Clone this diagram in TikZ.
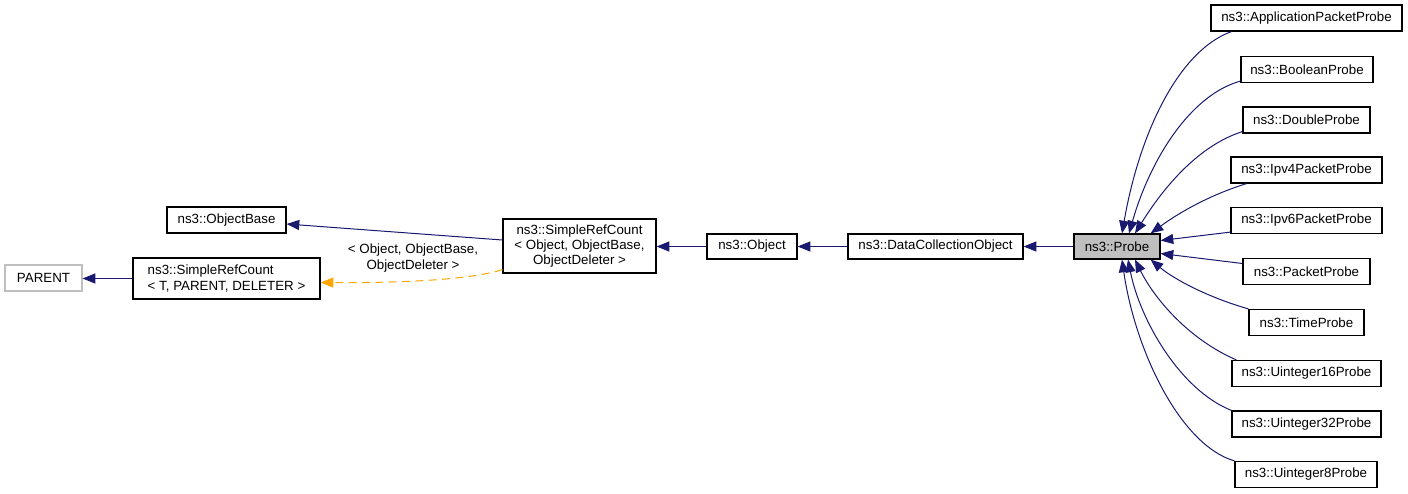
\documentclass[tikz,border=0pt]{standalone}
\usepackage{fontspec}
\setmainfont{Liberation Sans}
\usetikzlibrary{arrows.meta,calc}
\definecolor{edgeblue}{RGB}{25,25,112}
\definecolor{edgeorange}{RGB}{255,165,0}
\definecolor{boxgray}{RGB}{191,191,191}
\begin{document}
\begin{tikzpicture}[x=0.75pt,y=-0.75pt,
  cls/.style={draw=black, line width=0.9pt, fill=white, inner sep=2pt,
    minimum height=19.5pt, font=\fontsize{10}{11.5}\selectfont},
  inh/.style={draw=edgeblue, line width=0.75pt, -{Triangle[length=9.5pt,width=7.5pt]}},
  tmpl/.style={draw=edgeorange, line width=0.75pt, dash pattern=on 6pt off 4pt,
    -{Triangle[length=9.5pt,width=7.5pt]}},
  lbl/.style={font=\fontsize{10}{11.5}\selectfont, align=center, inner sep=0pt}]
\useasboundingbox (0,0) rectangle (1408,493);

% left part
\node[cls, draw=boxgray, minimum width=57.75pt] (parent) at (43.5,278) {PARENT};
\node[cls, minimum width=140.25pt, minimum height=30.75pt, align=left] (src1) at (226.5,278.5)
  {ns3::SimpleRefCount\\{}< T, PARENT, DELETER >};
\node[cls, minimum width=89.25pt] (objbase) at (226.5,220) {ns3::ObjectBase};
\node[cls, minimum width=114.75pt, minimum height=40.5pt, align=center] (src2) at (579.5,246)
  {ns3::SimpleRefCount\\{}< Object, ObjectBase,\\ObjectDeleter >};
\node[cls, minimum width=67.5pt, minimum height=18.75pt] (object) at (752,246.5) {ns3::Object};
\node[cls, minimum width=131.25pt, minimum height=18.75pt] (dco) at (935.5,246.5) {ns3::DataCollectionObject};
\node[cls, fill=boxgray, minimum width=64.5pt, minimum height=18.75pt] (probe) at (1117,246.5) {ns3::Probe};

% right column
\node[cls, minimum width=143.25pt] (apb) at (1306.5,18) {ns3::ApplicationPacketProbe};
\node[cls, minimum width=99pt] (bool) at (1307,69.5) {ns3::BooleanProbe};
\node[cls, minimum width=95.25pt] (dbl) at (1306.5,120) {ns3::DoubleProbe};
\node[cls, minimum width=113.25pt] (ipv4) at (1306.5,170) {ns3::Ipv4PacketProbe};
\node[cls, minimum width=113.25pt] (ipv6) at (1306.5,220.5) {ns3::Ipv6PacketProbe};
\node[cls, minimum width=95.25pt] (pkt) at (1306.5,271.5) {ns3::PacketProbe};
\node[cls, minimum width=86.25pt] (time) at (1306.5,322.5) {ns3::TimeProbe};
\node[cls, minimum width=111.75pt] (u16) at (1306.5,373.5) {ns3::Uinteger16Probe};
\node[cls, minimum width=111.75pt] (u32) at (1306.5,424) {ns3::Uinteger32Probe};
\node[cls, minimum width=106.5pt] (u8) at (1306,474.5) {ns3::Uinteger8Probe};

% left edges
\draw[inh] (src1.west) -- (parent.east |- src1.west);
\draw[inh] ($(src2.west)+(0,-6)$) -- ($(objbase.east)+(0,4)$);
\draw[tmpl] ($(src2.south west)+(0,-4)$) .. controls (470,280) and (400,283) .. ($(src1.east)+(0,4)$);
\node[lbl] (tlabel) at (413,258) {< Object, ObjectBase,\\ObjectDeleter >};
\draw[inh] (object.west) -- (src2.east |- object.west);
\draw[inh] (dco.west) -- (object.east);
\draw[inh] (probe.west) -- (dco.east);

% right edges
\draw[inh] ($(apb.south west)+(21,0)$) .. controls (1180,50) and (1140,130) .. ($(probe.north)+(5,0)$);
\draw[inh] ($(bool.south west)+(0,-2)$) .. controls (1190,95) and (1150,160) .. ($(probe.north)+(12,0)$);
\draw[inh] ($(dbl.south west)+(0,-2)$) .. controls (1200,145) and (1165,185) .. ($(probe.north)+(18,0)$);
\draw[inh] ($(ipv4.south west)+(16,0)$) .. controls (1210,195) and (1180,212) .. ($(probe.north east)+(-10,0)$);
\draw[inh] ($(ipv6.south west)+(0,-2)$) -- ($(probe.east)+(0,-6)$);
\draw[inh] ($(pkt.west)+(0,-8)$) -- ($(probe.east)+(0,7)$);
\draw[inh] (time.north west) .. controls (1210,298) and (1175,280) .. ($(probe.south east)+(-10,0)$);
\draw[inh] ($(u16.north west)+(5,0)$) .. controls (1190,340) and (1155,300) .. ($(probe.south)+(18,0)$);
\draw[inh] (u32.north west) .. controls (1180,390) and (1140,320) .. ($(probe.south)+(11,0)$);
\draw[inh] (u8.north west) .. controls (1180,445) and (1135,350) .. ($(probe.south)+(5,0)$);
\end{tikzpicture}
\end{document}
